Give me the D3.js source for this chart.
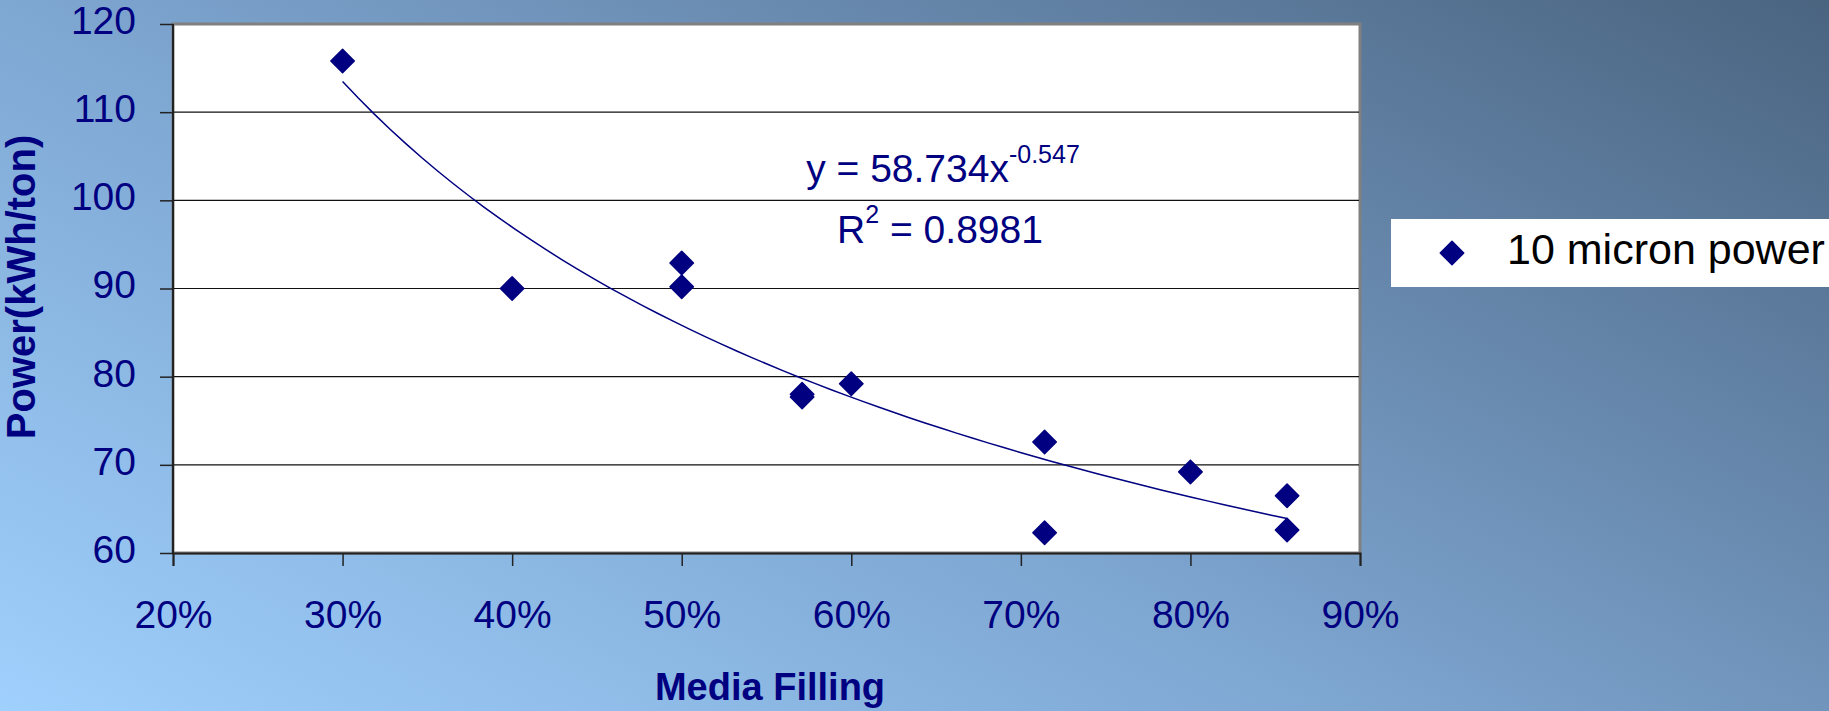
<!DOCTYPE html>
<html lang="en">
<head>
    <meta charset="UTF-8">
    <title>Power vs Media Filling</title>
    <script src="https://d3js.org/d3.v7.min.js"></script>
    <style>
        html, body { margin: 0; padding: 0; overflow: hidden; }
        body { font-family: "Liberation Sans", Arial, sans-serif; }
        .tick-label { fill: #000080; font-size: 39px; }
        .axis-title { fill: #000080; font-weight: bold; }
    </style>
</head>
<body>
    <svg width="1829" height="711"></svg>

    <script>
        // data
        const mediaFilling = [0.30, 0.40, 0.50, 0.50, 0.571, 0.571, 0.60, 0.714, 0.714, 0.80, 0.857, 0.857];
        const powerKwh = [115.8, 90.0, 92.9, 90.2, 78.0, 77.7, 79.2, 72.6, 62.3, 69.2, 66.5, 62.6];
        const xTicks = [0.2, 0.3, 0.4, 0.5, 0.6, 0.7, 0.8, 0.9];
        const yTicks = [60, 70, 80, 90, 100, 110, 120];
        const seriesName = "10 micron power";
        // power trendline y = a * x^b, as printed on the chart
        const trendA = 58.734;
        const trendB = -0.547;
        const trendR2 = "0.8981";

        const W = 1829, H = 711;
        const plot = { left: 173, right: 1360, top: 24, bottom: 553 };
        const navy = "#000080";

        const svg = d3.select("svg");

        // background gradient
        const defs = svg.append("defs");
        const grad = defs.append("linearGradient")
            .attr("id", "bg")
            .attr("gradientUnits", "userSpaceOnUse")
            .attr("x1", 0).attr("y1", H)
            .attr("x2", 699).attr("y2", -602);
        grad.append("stop").attr("offset", 0).attr("stop-color", "#a0d0fd");
        grad.append("stop").attr("offset", 0.42).attr("stop-color", "#7ea7d2");
        grad.append("stop").attr("offset", 0.6).attr("stop-color", "#6f92b9");
        grad.append("stop").attr("offset", 1).attr("stop-color", "#4a6480");

        svg.append("rect").attr("width", W).attr("height", H).attr("fill", "url(#bg)");

        const x = d3.scaleLinear().domain([0.2, 0.9]).range([plot.left, plot.right]);
        const y = d3.scaleLinear().domain([60, 120]).range([plot.bottom, plot.top]);

        // plot area
        svg.append("rect")
            .attr("x", plot.left).attr("y", plot.top)
            .attr("width", plot.right - plot.left)
            .attr("height", plot.bottom - plot.top)
            .attr("fill", "#fff")
            .attr("stroke", "#808080")
            .attr("stroke-width", 3);

        // gridlines
        svg.append("g")
            .selectAll("line")
            .data(yTicks.filter(d => d > 60 && d < 120))
            .join("line")
            .attr("x1", plot.left).attr("x2", plot.right - 1)
            .attr("y1", d => y(d)).attr("y2", d => y(d))
            .attr("stroke", "#111")
            .attr("stroke-width", 1.2);

        // axes
        const yAxis = svg.append("g")
            .attr("transform", `translate(${plot.left},0)`)
            .call(d3.axisLeft(y).tickValues(yTicks).tickSize(13).tickPadding(24).tickFormat(d3.format("d")));
        const xAxis = svg.append("g")
            .attr("transform", `translate(0,${plot.bottom})`)
            .call(d3.axisBottom(x).tickValues(xTicks).tickSize(13).tickPadding(34).tickFormat(d3.format(".0%")));

        [yAxis, xAxis].forEach(g => {
            g.select(".domain").attr("stroke", "#222").attr("stroke-width", 2);
            g.selectAll(".tick line").attr("stroke", "#222").attr("stroke-width", 1.5);
            g.selectAll(".tick text")
                .attr("class", "tick-label")
                .attr("font-family", null)
                .attr("font-size", null)
                .attr("fill", null);
        });
        yAxis.select(".domain").attr("d", `M0,${plot.top}V${plot.bottom}`);
        yAxis.selectAll(".tick text").attr("dy", "0.24em");
        xAxis.selectAll(".tick text").attr("dy", "0.71em");

        // trendline
        const trendPts = d3.range(0, 61).map(i => {
            const xv = 0.30 + (0.857 - 0.30) * i / 60;
            return [xv, trendA * Math.pow(xv, trendB)];
        });
        svg.append("path")
            .datum(trendPts)
            .attr("fill", "none")
            .attr("stroke", navy)
            .attr("stroke-width", 1.5)
            .attr("d", d3.line().x(d => x(d[0])).y(d => y(d[1])));

        // markers
        const diamond = d3.symbol().type(d3.symbolSquare).size(275);
        svg.append("g")
            .selectAll("path")
            .data(mediaFilling.map((m, i) => ({ m, p: powerKwh[i] })))
            .join("path")
            .attr("d", diamond)
            .attr("transform", d => `translate(${x(d.m)},${y(d.p)}) rotate(45)`)
            .attr("fill", navy)
            .attr("stroke", navy)
            .attr("stroke-width", 1.5)
            .attr("stroke-linejoin", "round");

        // equation label
        const eq = svg.append("text")
            .attr("x", 943).attr("y", 182)
            .attr("text-anchor", "middle")
            .attr("fill", navy)
            .style("font-size", "39px");
        eq.append("tspan").text("y = " + trendA + "x");
        eq.append("tspan").attr("dy", -19).style("font-size", "25px").text(trendB);

        const r2 = svg.append("text")
            .attr("x", 940).attr("y", 243)
            .attr("text-anchor", "middle")
            .attr("fill", navy)
            .style("font-size", "39px");
        r2.append("tspan").text("R");
        r2.append("tspan").attr("dy", -20).style("font-size", "25px").text("2");
        r2.append("tspan").attr("dy", 20).text(" = " + trendR2);

        // axis titles
        svg.append("text")
            .attr("class", "axis-title")
            .attr("x", 770).attr("y", 700)
            .attr("text-anchor", "middle")
            .style("font-size", "38px")
            .text("Media Filling");

        svg.append("text")
            .attr("class", "axis-title")
            .attr("transform", "translate(35,287) rotate(-90)")
            .attr("text-anchor", "middle")
            .style("font-size", "40px")
            .text("Power(kWh/ton)");

        // legend
        const legend = svg.append("g").attr("transform", "translate(1391,219)");
        legend.append("rect")
            .attr("width", 460).attr("height", 68)
            .attr("fill", "#fff");
        legend.append("path")
            .attr("d", diamond)
            .attr("transform", "translate(61,34) rotate(45)")
            .attr("fill", navy)
            .attr("stroke", navy)
            .attr("stroke-width", 1.5)
            .attr("stroke-linejoin", "round");
        legend.append("text")
            .attr("x", 116).attr("y", 45)
            .attr("fill", "#000")
            .style("font-size", "43px")
            .text(seriesName);
    </script>
</body>
</html>
